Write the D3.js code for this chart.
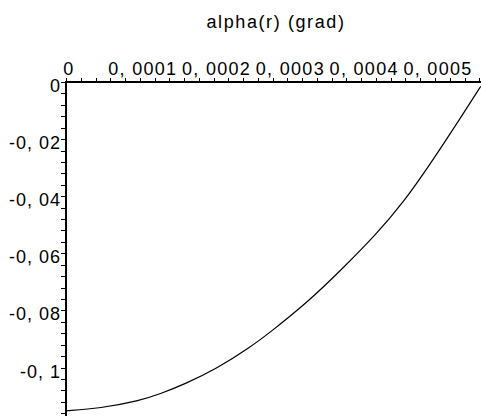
<!DOCTYPE html>
<html>
<head>
<meta charset="utf-8">
<script src="https://cdn.jsdelivr.net/npm/d3@7"></script>
<style>
  body { margin: 0; background: #fff; }
  text { font-family: "Liberation Sans", Arial, sans-serif; fill: #000; }
</style>
</head>
<body>
<div id="chart"></div>
<script>
// values (x in units of r, y in grad)
var rValues = [0, 0.000046, 0.0001, 0.000127, 0.000161, 0.000205, 0.000249, 0.000276,
  0.000327, 0.000371, 0.000421, 0.000457, 0.000493, 0.000538, 0.000562];
var alphaValues = [-0.1152, -0.1143, -0.1116, -0.1093, -0.1058, -0.1003, -0.0930, -0.0878,
  -0.0772, -0.0663, -0.0532, -0.0422, -0.0290, -0.0112, -0.0015];

var xTicks = [0, 0.0001, 0.0002, 0.0003, 0.0004, 0.0005];
var xTickLabels = ["0", "0, 0001", "0, 0002", "0, 0003", "0, 0004", "0, 0005"];
var yTicks = [0, -0.02, -0.04, -0.06, -0.08, -0.1];
var yTickLabels = ["0", "-0, 02", "-0, 04", "-0, 06", "-0, 08", "-0, 1"];
var title = "alpha(r) (grad)";

var width = 481, height = 416;

var svg = d3.select("#chart").append("svg")
  .attr("width", width)
  .attr("height", height);

var x = d3.scaleLinear().domain([0, 0.0001]).range([66, 139.8]);
var y = d3.scaleLinear().domain([0, -0.02]).range([82, 139.1]);

var xMax = x.invert(width), yMin = y.invert(height);

// title
svg.append("text")
  .attr("x", 276)
  .attr("y", 28)
  .attr("text-anchor", "middle")
  .attr("font-size", "18px")
  .attr("letter-spacing", "1.6px")
  .text(title);

// minor ticks
var xMinor = d3.range(0, xMax, 0.00002);
var yMinor = d3.range(0, yMin, -0.004);

svg.append("g").selectAll("line")
  .data(xMinor)
  .enter().append("line")
  .attr("x1", d => Math.round(x(d)) + 0.5)
  .attr("x2", d => Math.round(x(d)) + 0.5)
  .attr("y1", y(0))
  .attr("y2", y(0) - 4)
  .attr("stroke", "black");

svg.append("g").selectAll("line")
  .data(yMinor)
  .enter().append("line")
  .attr("y1", d => Math.round(y(d)) + 0.5)
  .attr("y2", d => Math.round(y(d)) + 0.5)
  .attr("x1", x(0))
  .attr("x2", x(0) - 5)
  .attr("stroke", "black");

// axes lines
svg.append("line")
  .attr("x1", x(0)).attr("x2", width)
  .attr("y1", y(0)).attr("y2", y(0))
  .attr("stroke", "black").attr("stroke-width", 2);

svg.append("line")
  .attr("x1", x(0)).attr("x2", x(0))
  .attr("y1", y(0) - 1).attr("y2", height)
  .attr("stroke", "black").attr("stroke-width", 2);

// tick labels
svg.append("g").selectAll("text")
  .data(xTicks)
  .enter().append("text")
  .attr("x", d => x(d) + 3)
  .attr("y", 75)
  .attr("text-anchor", "middle")
  .attr("font-size", "18px")
  .attr("letter-spacing", "1.3px")
  .text((d, i) => xTickLabels[i]);

svg.append("g").selectAll("text")
  .data(yTicks)
  .enter().append("text")
  .attr("x", 61)
  .attr("y", d => y(d) + 10)
  .attr("text-anchor", "end")
  .attr("font-size", "18px")
  .attr("letter-spacing", "1px")
  .text((d, i) => yTickLabels[i]);

// curve
var line = d3.line()
  .x(d => x(d[0]))
  .y(d => y(d[1]))
  .curve(d3.curveBasis);

svg.append("path")
  .datum(d3.zip(rValues, alphaValues))
  .attr("d", line)
  .attr("fill", "none")
  .attr("stroke", "black")
  .attr("stroke-width", 1.2);
</script>
</body>
</html>
